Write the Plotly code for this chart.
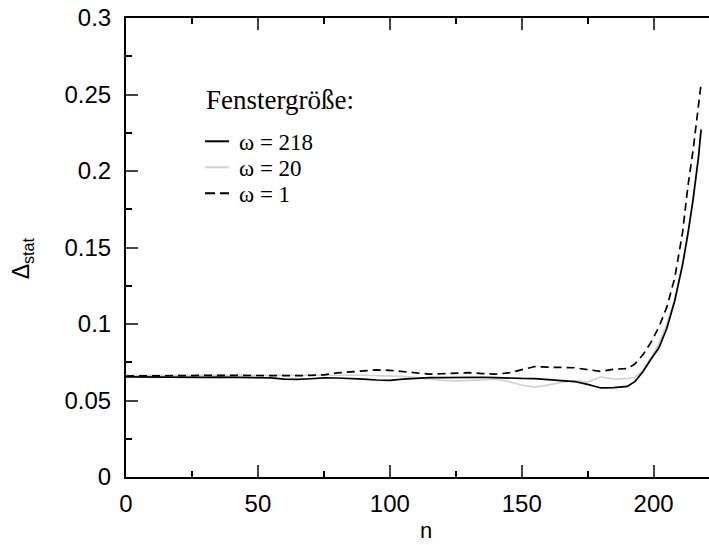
import plotly.graph_objects as go

n = [0, 5, 10, 15, 20, 25, 30, 35, 40, 45, 50, 55, 60, 65, 70, 75, 80, 85, 90, 95,
     100, 105, 110, 115, 120, 125, 130, 135, 140, 145, 150, 155, 160, 165, 170, 175,
     180, 185, 190, 193, 196, 199, 202, 205, 208, 211, 213, 215, 217, 218]

w218 = [0.0655, 0.0654, 0.0652, 0.0653, 0.0650, 0.0652, 0.0651, 0.0653, 0.0652, 0.0651,
        0.0652, 0.0648, 0.0640, 0.0638, 0.0642, 0.0648, 0.0647, 0.0645, 0.0640, 0.0634,
        0.0632, 0.0640, 0.0647, 0.0650, 0.0650, 0.0652, 0.0653, 0.0652, 0.0650, 0.0646,
        0.0644, 0.0643, 0.0638, 0.0633, 0.0624, 0.0605, 0.0582, 0.0584, 0.0592, 0.0625,
        0.0690, 0.0770, 0.0845, 0.0970, 0.1150, 0.1390, 0.1590, 0.1820, 0.2090, 0.2270]

w20 = [0.0665, 0.0665, 0.0664, 0.0666, 0.0667, 0.0666, 0.0668, 0.0667, 0.0668, 0.0668,
       0.0666, 0.0665, 0.0664, 0.0664, 0.0665, 0.0666, 0.0668, 0.0668, 0.0665, 0.0662,
       0.0660, 0.0658, 0.0650, 0.0640, 0.0632, 0.0628, 0.0630, 0.0635, 0.0640, 0.0625,
       0.0600, 0.0588, 0.0600, 0.0620, 0.0630, 0.0620, 0.0655, 0.0640, 0.0645, 0.0652,
       0.0700, 0.0780, 0.0870, 0.1000, 0.1160, 0.1390, 0.1580, 0.1800, 0.2080, 0.2280]

w1 = [0.0660, 0.0660, 0.0661, 0.0662, 0.0662, 0.0663, 0.0665, 0.0664, 0.0664, 0.0665,
      0.0664, 0.0665, 0.0664, 0.0662, 0.0664, 0.0668, 0.0680, 0.0688, 0.0695, 0.0700,
      0.0697, 0.0690, 0.0680, 0.0672, 0.0675, 0.0680, 0.0682, 0.0676, 0.0672, 0.0680,
      0.0700, 0.0722, 0.0718, 0.0716, 0.0714, 0.0702, 0.0690, 0.0705, 0.0708, 0.0740,
      0.0800, 0.0880, 0.0980, 0.1110, 0.1300, 0.1600, 0.1900, 0.2140, 0.2410, 0.2570]

series_names = ["ω = 218", "ω = 20", "ω = 1"]
legend_title = "Fenstergröße:"
x_ticks = [0, 50, 100, 150, 200]
y_ticks = [0, 0.05, 0.1, 0.15, 0.2, 0.25, 0.3]
y_ticktext = ["0", "0.05", "0.1", "0.15", "0.2", "0.25", "0.3"]

styles = [dict(color="#000000", width=1.7, dash="solid"),
          dict(color="#d2d2d2", width=1.7, dash="solid"),
          dict(color="#000000", width=1.7, dash="8px,5px")]

fig = go.Figure()
# grey drawn first, below black lines
order = [1, 0, 2]
all_series = [w218, w20, w1]
for i in order:
    fig.add_trace(go.Scatter(x=n, y=all_series[i], mode="lines", name=series_names[i],
                             line=styles[i], showlegend=False))

sans = "Liberation Sans, Arial, sans-serif"
serif = "Liberation Serif, Times New Roman, serif"
tick_size = 24

fig.update_layout(
    width=709, height=545,
    margin=dict(l=126, r=0, t=18, b=68),
    paper_bgcolor="white", plot_bgcolor="white",
    font=dict(family=sans, size=tick_size, color="black"),
    xaxis=dict(range=[0, 221], tickvals=x_ticks, ticks="inside", ticklen=12,
               tickwidth=2, showline=True, linewidth=2, linecolor="black",
               mirror="ticks", showgrid=False, zeroline=False,
               ticklabelstandoff=4,
               tickfont=dict(family=sans, size=tick_size),
               minor=dict(dtick=25, ticks="inside", ticklen=6, tickwidth=2,
                          tickcolor="black", showgrid=False)),
    yaxis=dict(range=[0, 0.3], tickvals=y_ticks, ticktext=y_ticktext,
               ticks="inside", ticklen=12,
               tickwidth=2, showline=True, linewidth=2, linecolor="black",
               mirror=False, showgrid=False, zeroline=False,
               ticklabelstandoff=8,
               tickfont=dict(family=sans, size=tick_size),
               minor=dict(dtick=0.025, ticks="inside", ticklen=6, tickwidth=2,
                          tickcolor="black", showgrid=False)),
)

def px(xp):
    return (xp - 126) / 583.0

def py(yp):
    return (476.7 - yp) / 459.0

# axis titles
fig.add_annotation(x=px(22), y=py(258), xref="paper", yref="paper",
                   text="Δ<sub>stat</sub>", showarrow=False, textangle=-90,
                   font=dict(family=sans, size=23), xanchor="center", yanchor="middle")
fig.add_annotation(x=px(426), y=py(530), xref="paper", yref="paper",
                   text="n", showarrow=False,
                   font=dict(family=sans, size=22), xanchor="center", yanchor="middle")

# legend
fig.add_annotation(x=px(204), y=py(100), xref="paper", yref="paper",
                   text=legend_title, showarrow=False, xanchor="left", yanchor="middle",
                   font=dict(family=serif, size=27))
legend_y = [141, 167, 193]
for i, ly in zip(range(3), legend_y):
    st = styles[i]
    fig.add_shape(type="line", xref="paper", yref="paper",
                  x0=px(205), x1=px(229), y0=py(ly), y1=py(ly),
                  line=dict(color=st["color"], width=2,
                            dash="10px,5px" if st["dash"] != "solid" else "solid"))
    fig.add_annotation(x=px(237), y=py(ly + 1), xref="paper", yref="paper",
                       text=series_names[i], showarrow=False, xanchor="left",
                       yanchor="middle", font=dict(family=serif, size=23))

fig.write_html("out.html")
